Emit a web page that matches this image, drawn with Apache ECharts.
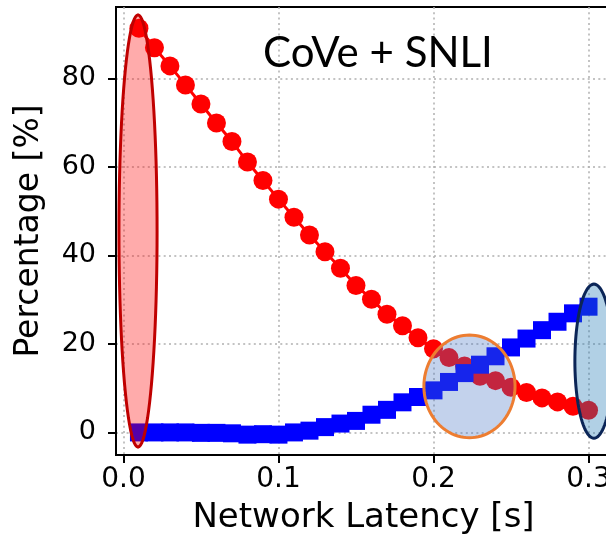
<!DOCTYPE html>
<html>
<head>
<meta charset="utf-8">
<script src="https://cdn.jsdelivr.net/npm/echarts@6/dist/echarts.min.js"></script>
<style>
  html, body { margin: 0; padding: 0; background: #fff; }
  #chart { width: 606px; height: 538px; }
</style>
</head>
<body>
<div id="chart"></div>
<script>
// latency values (s) shared by both series
const latency = [0.01, 0.02, 0.03, 0.04, 0.05, 0.06, 0.07, 0.08, 0.09, 0.10,
                 0.11, 0.12, 0.13, 0.14, 0.15, 0.16, 0.17, 0.18, 0.19, 0.20,
                 0.21, 0.22, 0.23, 0.24, 0.25, 0.26, 0.27, 0.28, 0.29, 0.30];
// red circles (%)
const redPct = [91.3, 86.9, 82.8, 78.5, 74.2, 69.9, 65.7, 61.1, 56.9, 52.7,
                48.6, 44.6, 40.8, 37.1, 33.2, 30.1, 26.7, 24.1, 21.4, 18.9,
                16.9, 15.0, 12.7, 11.7, 10.2, 9.0, 7.8, 6.9, 5.9, 5.0];
// blue squares (%)
const bluePct = [0.0, 0.0, 0.0, 0.0, -0.1, -0.1, -0.2, -0.5, -0.4, -0.5,
                 0.0, 0.4, 1.2, 2.0, 2.6, 4.0, 5.1, 6.8, 8.0, 9.5,
                 11.4, 13.4, 15.3, 17.2, 19.2, 21.2, 23.1, 25.0, 26.9, 28.4];

const xTicks = [0, 0.1, 0.2, 0.3];
const yTicks = [0, 20, 40, 60, 80];

// highlight ellipses, in data units
const ellCx = [0.0094, 0.2232, 0.3035];
const ellCy = [45.5, 10.4, 16.1];
const ellRx = [0.0123, 0.0294, 0.0123];
const ellRy = [48.8, 11.6, 17.4];
const ellFill = ['rgba(255,0,0,0.33)', 'rgba(68,114,196,0.32)', 'rgba(31,119,180,0.35)'];
const ellEdge = ['#c00000', '#ed7d31', '#0b2557'];

const chart = echarts.init(document.getElementById('chart'));

const font = 'DejaVu Sans';

const option = {
  animation: false,
  backgroundColor: '#fff',
  grid: {
    left: 116, top: 7, right: -5, bottom: 83,
    outerBoundsMode: 'none',
    containLabel: false,
    show: true, borderColor: '#000', borderWidth: 2
  },
  graphic: [{
    type: 'text',
    left: 263, top: 32,
    style: { text: 'CoVe + SNLI', fontFamily: 'Lato', fontSize: 42, fill: '#000' },
    z: 100
  }],
  xAxis: {
    type: 'value',
    min: -0.0048, max: 0.3145,
    splitNumber: 3,
    name: 'Network Latency [s]',
    nameLocation: 'middle',
    nameGap: 46,
    nameTextStyle: { fontFamily: font, fontSize: 34, color: '#000' },
    axisLine: { show: true, onZero: false, lineStyle: { color: '#000', width: 2 } },
    axisTick: { show: true, length: 8, customValues: xTicks, lineStyle: { color: '#000', width: 2 } },
    axisLabel: {
      customValues: xTicks,
      formatter: v => v.toFixed(1),
      fontFamily: font, fontSize: 28, color: '#000', margin: 11
    },
    splitLine: { show: true, lineStyle: { color: '#b0b0b0', width: 1.5, type: [2, 3.3] } }
  },
  yAxis: {
    type: 'value',
    min: -5.1, max: 96.1,
    splitNumber: 5,
    name: 'Percentage [%]',
    nameLocation: 'middle',
    nameGap: 70,
    nameTextStyle: { fontFamily: font, fontSize: 33, color: '#000' },
    axisLine: { show: true, onZero: false, lineStyle: { color: '#000', width: 2 } },
    axisTick: { show: true, length: 8, customValues: yTicks, lineStyle: { color: '#000', width: 2 } },
    axisLabel: {
      customValues: yTicks,
      fontFamily: font, fontSize: 27, color: '#000', margin: 20
    },
    splitLine: { show: true, lineStyle: { color: '#b0b0b0', width: 1.5, type: [2, 3.3] } }
  },
  series: [
    {
      type: 'line',
      data: latency.map((x, i) => [x, redPct[i]]),
      symbol: 'circle',
      symbolSize: 19,
      itemStyle: { color: '#ff0000' },
      lineStyle: { color: '#ff0000', width: 3 },
      z: 2
    },
    {
      type: 'line',
      data: latency.map((x, i) => [x, bluePct[i]]),
      symbol: 'rect',
      symbolSize: 18,
      itemStyle: { color: '#0000ff' },
      lineStyle: { color: '#0000ff', width: 3 },
      z: 3
    },
    {
      type: 'custom',
      z: 4,
      clip: false,
      data: ellCx.map((cx, i) => [cx, ellCy[i], ellRx[i], ellRy[i], i]),
      renderItem: function (params, api) {
        const cx = api.value(0), cy = api.value(1);
        const rx = api.value(2), ry = api.value(3);
        const k = api.value(4);
        const pts = [];
        for (let t = 0; t < 96; t++) {
          const a = t / 96 * Math.PI * 2;
          pts.push(api.coord([cx + rx * Math.cos(a), cy + ry * Math.sin(a)]));
        }
        return {
          type: 'polygon',
          shape: { points: pts },
          style: { fill: ellFill[k], stroke: ellEdge[k], lineWidth: 3 }
        };
      }
    }
  ]
};

chart.setOption(option);
</script>
</body>
</html>
